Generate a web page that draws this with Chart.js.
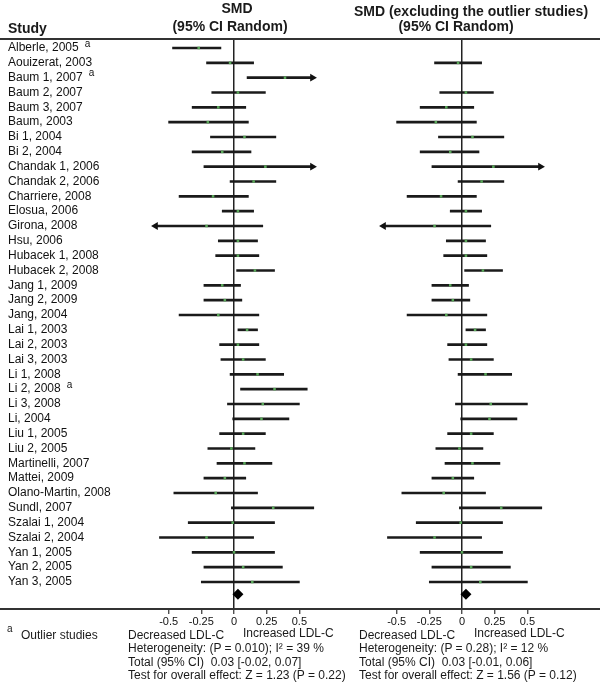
<!DOCTYPE html>
<html><head><meta charset="utf-8">
<script src="https://cdn.jsdelivr.net/npm/chart.js@4"></script>
<style>
html,body{margin:0;padding:0;background:#fff;}
#wrap{position:relative;width:600px;height:697px;overflow:hidden;font-family:"Liberation Sans",Arial,sans-serif;color:#1a1a1a;}
canvas{position:absolute;top:0;}
.t{position:absolute;white-space:pre;font-size:12px;line-height:15px;}
.h{position:absolute;font-weight:bold;font-size:14px;line-height:16px;text-align:center;white-space:pre;}
.rule{position:absolute;left:0;width:600px;height:2px;background:#333;}
</style></head><body>
<div id="wrap">
<canvas id="c1" width="330" height="697" style="left:0"></canvas>
<canvas id="c2" width="270" height="697" style="left:330px"></canvas>
<div class="rule" style="top:38px"></div>
<div class="rule" style="top:608px"></div>
<div class="h" style="left:187px;width:100px;top:0px">SMD</div>
<div class="h" style="left:160px;width:140px;top:18px">(95% CI Random)</div>
<div class="h" style="left:8px;top:20px;text-align:left">Study</div>
<div class="h" style="left:336px;width:270px;top:3px">SMD (excluding the outlier studies)</div>
<div class="h" style="left:386px;width:140px;top:18px">(95% CI Random)</div>
<div class="t" style="left:7px;top:621px;font-size:10px">a</div>
<div class="t" style="left:21px;top:628px">Outlier studies</div>
<div id="foot1"></div>
<div id="foot2"></div>
</div>
<script>
const studies = ["Alberle, 2005","Aouizerat, 2003","Baum 1, 2007","Baum 2, 2007","Baum 3, 2007","Baum, 2003","Bi 1, 2004","Bi 2, 2004","Chandak 1, 2006","Chandak 2, 2006","Charriere, 2008","Elosua, 2006","Girona, 2008","Hsu, 2006","Hubacek 1, 2008","Hubacek 2, 2008","Jang 1, 2009","Jang 2, 2009","Jang, 2004","Lai 1, 2003","Lai 2, 2003","Lai 3, 2003","Li 1, 2008","Li 2, 2008","Li 3, 2008","Li, 2004","Liu 1, 2005","Liu 2, 2005","Martinelli, 2007","Mattei, 2009","Olano-Martin, 2008","Sundl, 2007","Szalai 1, 2004","Szalai 2, 2004","Yan 1, 2005","Yan 2, 2005","Yan 3, 2005"];
const smd    = [-0.27,-0.03,0.39,0.03,-0.12,-0.20,0.08,-0.09,0.24,0.15,-0.16,0.03,-0.21,0.03,0.03,0.16,-0.09,-0.07,-0.12,0.10,0.03,0.07,0.18,0.31,0.22,0.21,0.07,-0.02,0.08,-0.07,-0.14,0.30,-0.01,-0.21,0.00,0.07,0.14];
const ciLow  = [-0.47,-0.21,0.10,-0.17,-0.32,-0.50,-0.18,-0.32,-0.23,-0.03,-0.42,-0.09,-0.60,-0.12,-0.14,0.02,-0.23,-0.23,-0.42,0.03,-0.11,-0.10,-0.03,0.05,-0.05,-0.01,-0.11,-0.20,-0.13,-0.23,-0.46,-0.02,-0.35,-0.57,-0.32,-0.23,-0.25];
const ciHigh = [-0.10,0.15,0.60,0.24,0.09,0.11,0.32,0.13,0.60,0.32,0.11,0.15,0.22,0.18,0.19,0.31,0.05,0.06,0.19,0.18,0.19,0.24,0.38,0.56,0.50,0.42,0.24,0.16,0.29,0.09,0.18,0.61,0.31,0.15,0.31,0.37,0.50];
const outlierStudies = ["Alberle, 2005","Baum 1, 2007","Li 2, 2008"];
const arrowRight = ["Baum 1, 2007","Chandak 1, 2006"];
const arrowLeft = ["Girona, 2008"];
const tickValues = [-0.5,-0.25,0,0.25,0.5];
const tickLabels = ["-0.5","-0.25","0","0.25","0.5"];
const totalAll  = [0.03,-0.02,0.07];
const totalExcl = [0.03,-0.01,0.06];
const statsAll  = ["Heterogeneity: (P = 0.010); I\u00b2 = 39 %","Total (95% CI)  0.03 [-0.02, 0.07]","Test for overall effect: Z = 1.23 (P = 0.22)"];
const statsExcl = ["Heterogeneity: (P = 0.28); I\u00b2 = 12 %","Total (95% CI)  0.03 [-0.01, 0.06]","Test for overall effect: Z = 1.56 (P = 0.12)"];

const FONT = '"Liberation Sans", Arial, sans-serif';
const totalRow = studies.length - 0.18;

const supPlugin = {
  id: 'sup',
  afterDraw(chart) {
    const ctx = chart.ctx, ys = chart.scales.y;
    ctx.save();
    ctx.fillStyle = '#111';
    ctx.textBaseline = 'middle';
    studies.forEach((s, i) => {
      if (!outlierStudies.includes(s)) return;
      ctx.font = '12px ' + FONT;
      const w = ctx.measureText(s).width;
      ctx.font = '10px ' + FONT;
      ctx.fillText('a', ys.left + w + 6, ys.getPixelForValue(i) - 4);
    });
    ctx.restore();
  }
};

function build(id, exclude, total, showLabels, pad) {
  const rows = studies.map((s, i) => ({s, i})).filter(r => !(exclude && outlierStudies.includes(r.s)));
  const ci  = rows.map(r => ({y: r.i, x: [ciLow[r.i], ciHigh[r.i]]}));
  const pts = rows.map(r => ({y: r.i, x: smd[r.i]}));
  const arrR = rows.filter(r => arrowRight.includes(r.s)).map(r => ({y: r.i, x: ciHigh[r.i]}));
  const arrL = rows.filter(r => arrowLeft.includes(r.s)).map(r => ({y: r.i, x: ciLow[r.i]}));
  return new Chart(document.getElementById(id), {
    type: 'bar',
    data: { datasets: [
      { type: 'bar', indexAxis: 'y', data: ci, backgroundColor: '#1a1a1a', borderWidth: 0, barThickness: 2, order: 4 },
      { type: 'scatter', data: pts, pointStyle: 'rect', pointRadius: 1.8, backgroundColor: '#5aa85a', borderWidth: 0, order: 1 },
      { type: 'scatter', data: arrR, pointStyle: 'triangle', rotation: 90, pointRadius: 4.5, backgroundColor: '#111', borderWidth: 0, clip: false, order: 2 },
      { type: 'scatter', data: arrL, pointStyle: 'triangle', rotation: -90, pointRadius: 4.5, backgroundColor: '#111', borderWidth: 0, clip: false, order: 2 },
      { type: 'scatter', data: [{x: total[0], y: totalRow}], pointStyle: 'rectRot', pointRadius: 5.5, backgroundColor: '#000', borderWidth: 0, clip: false, order: 1 }
    ]},
    options: {
      responsive: false, animation: false, devicePixelRatio: 1,
      layout: { padding: pad },
      plugins: { legend: {display: false}, tooltip: {enabled: false} },
      scales: {
        x: {
          type: 'linear', min: -0.65, max: 0.65, offset: false,
          afterBuildTicks: s => { s.ticks = tickValues.map(v => ({value: v})); },
          afterFit: s => { s.height = 30; },
          border: {display: false},
          grid: { offset: false, color: c => (c.tick && c.tick.value === 0) ? '#222' : 'rgba(0,0,0,0)', lineWidth: 1.5, tickColor: '#333', tickLength: 5, tickWidth: 1.2 },
          ticks: { autoSkip: false, maxRotation: 0, padding: 1, color: '#111', font: {family: FONT, size: 11},
            callback: (v) => tickLabels[tickValues.indexOf(v)] ?? '' }
        },
        y: {
          type: 'linear', reverse: true, min: -0.674, max: 37.82, offset: false,
          display: showLabels,
          afterBuildTicks: s => { s.ticks = studies.map((n, i) => ({value: i})); },
          afterFit: s => { if (showLabels) s.width = 141; },
          border: {display: false},
          grid: {display: false, offset: false},
          ticks: { autoSkip: false, crossAlign: 'far', color: '#111', font: {family: FONT, size: 12},
            callback: v => studies[v] ?? '' }
        }
      }
    },
    plugins: showLabels ? [supPlugin] : []
  });
}

build('c1', false, totalAll, true, {left: 8, right: 11, top: 38, bottom: 58});
build('c2', true, totalExcl, false, {left: 47, right: 53, top: 38, bottom: 58});

function footer(elId, left, incLeft, stats) {
  const el = document.getElementById(elId);
  const tops = [640.5, 654.5, 668];
  let html = `<div class="t" style="left:${left}px;top:627.5px">Decreased LDL-C</div>` +
             `<div class="t" style="left:${incLeft}px;top:625.5px">Increased LDL-C</div>`;
  stats.forEach((s, i) => { html += `<div class="t" style="left:${left}px;top:${tops[i]}px">${s}</div>`; });
  el.innerHTML = html;
}
footer('foot1', 128, 243, statsAll);
footer('foot2', 359, 474, statsExcl);
</script>
</body></html>
